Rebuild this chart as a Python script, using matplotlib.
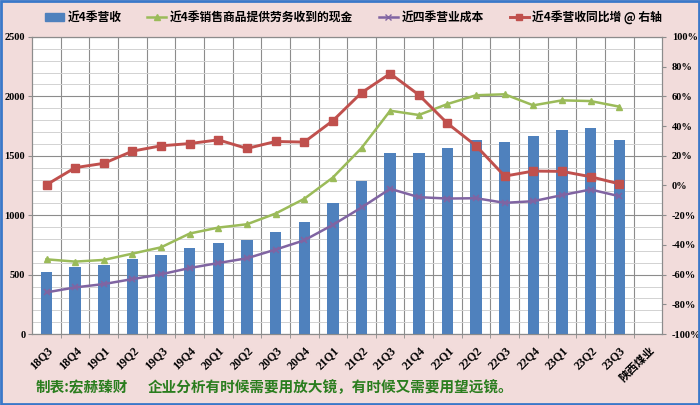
"""
陕西煤业: 近4季营收 / 现金 / 营业成本 / 营收同比 chart.
"""

import matplotlib
matplotlib.use("Agg")
import matplotlib.pyplot as plt
from matplotlib.patches import Rectangle
from matplotlib.lines import Line2D
from matplotlib.ticker import MultipleLocator, FixedLocator

CJK = ['Noto Sans CJK SC', 'DejaVu Sans']
NUM = ['Liberation Serif', 'DejaVu Serif']

quarters = ['18Q3', '18Q4', '19Q1', '19Q2', '19Q3', '19Q4', '20Q1', '20Q2',
            '20Q3', '20Q4', '21Q1', '21Q2', '21Q3', '21Q4', '22Q1', '22Q2',
            '22Q3', '22Q4', '23Q1', '23Q2', '23Q3']
company = '陕西煤业'

revenue = [520, 567, 584, 632, 663, 728, 767, 789, 860, 941, 1104, 1287,
           1520, 1520, 1567, 1629, 1615, 1666, 1719, 1733, 1635]
cash = [629, 610, 624, 677, 730, 846, 896, 924, 1014, 1138, 1317, 1565,
        1879, 1843, 1935, 2009, 2017, 1924, 1966, 1960, 1913]
cost = [351, 393, 421, 463, 503, 556, 598, 638, 711, 789, 919, 1065,
        1222, 1152, 1140, 1143, 1104, 1118, 1169, 1216, 1160]
growth = [0.5, 12.0, 14.9, 23.1, 26.7, 28.2, 30.7, 24.9, 29.6, 29.2, 43.6,
          62.4, 75.3, 61.0, 41.8, 26.7, 6.3, 9.7, 9.5, 5.9, 1.1]

left_ticks = [0, 500, 1000, 1500, 2000, 2500]
right_ticks = [-100, -80, -60, -40, -20, 0, 20, 40, 60, 80, 100]

names = ['近4季营收', '近4季销售商品提供劳务收到的现金', '近四季营业成本', '近4季营收同比增 @ 右轴']

BLUE = '#4f81bd'
GREEN = '#9bbb59'
PURPLE = '#8064a2'
RED = '#c0504d'
BG = '#f2dcdb'

fig = plt.figure(figsize=(7, 4.05), dpi=100, facecolor=BG)
ax = fig.add_axes([0.046, 0.175, 0.900, 0.734])
ax.set_facecolor('white')

x = list(range(len(quarters)))
ax.bar(x, revenue, width=0.4, color=BLUE, zorder=3)
ax.plot(x, cash, color=GREEN, lw=1.8, marker='^', ms=5, zorder=4)
ax.plot(x, cost, color=PURPLE, lw=1.8, marker='x', ms=4, mew=1.2, zorder=4)

ncat = len(quarters) + 1
ax.set_xlim(-0.5, ncat - 0.5)
ax.set_ylim(0, 2500)
ax.set_yticks(left_ticks)
ax.set_yticklabels([str(v) for v in left_ticks], fontfamily=NUM,
                   fontweight='bold', fontsize=7.5)
ax.yaxis.set_minor_locator(MultipleLocator(100))
ax.grid(axis='y', which='major', color='#8c8c8c', lw=0.8, zorder=0)
ax.grid(axis='y', which='minor', color='#d2d2d2', lw=0.7, zorder=0)

ax.set_xticks(range(ncat))
ax.set_xticklabels(quarters + [company])
for lab in ax.get_xticklabels():
    lab.set_rotation(45)
    lab.set_ha('right')
    lab.set_rotation_mode('anchor')
    lab.set_fontweight('bold')
    if lab.get_text() == company:
        lab.set_fontfamily(CJK)
        lab.set_fontsize(8)
    else:
        lab.set_fontfamily(NUM)
        lab.set_fontsize(8.5)
ax.tick_params(axis='x', which='major', length=0, pad=7)
ax.xaxis.set_minor_locator(FixedLocator([i + 0.5 for i in range(ncat - 1)]))
ax.tick_params(axis='x', which='minor', length=3, color='#8c8c8c')
ax.grid(axis='x', which='minor', color='#8c8c8c', lw=0.8, zorder=0)
ax.tick_params(axis='y', which='major', length=3, color='#8c8c8c', pad=2)
ax.tick_params(axis='y', which='minor', length=0)
for s in ax.spines.values():
    s.set_color('#8c8c8c')
    s.set_linewidth(0.8)

ax2 = ax.twinx()
ax2.plot(x, growth, color=RED, lw=2.1, marker='s', ms=6, zorder=5)
ax2.set_ylim(-100, 100)
ax2.set_yticks(right_ticks)
ax2.set_yticklabels([f'{v}%' for v in right_ticks], fontfamily=NUM,
                    fontweight='bold', fontsize=7.5)
ax2.tick_params(axis='y', length=3, color='#8c8c8c', pad=4)
for s in ax2.spines.values():
    s.set_color('#8c8c8c')
    s.set_linewidth(0.8)

handles = [
    Rectangle((0, 0), 1, 1, color=BLUE),
    Line2D([], [], color=GREEN, lw=1.8, marker='^', ms=5),
    Line2D([], [], color=PURPLE, lw=1.8, marker='x', ms=4),
    Line2D([], [], color=RED, lw=2.1, marker='s', ms=5),
]
fig.legend(handles, names, loc='center', bbox_to_anchor=(0.505, 0.957),
           ncol=4, frameon=False, prop={'family': CJK, 'weight': 'bold', 'size': 8.5},
           handlelength=1.6, handletextpad=0.3, columnspacing=2.2)

fig.text(0.051, 0.045, '制表:宏赫臻财', color='#2a7d1e', fontsize=10.5,
         fontfamily=CJK, fontweight='bold', va='center')
fig.text(0.211, 0.045, '企业分析有时候需要用放大镜，有时候又需要用望远镜。', color='#2a7d1e',
         fontsize=10.5, fontfamily=CJK, fontweight='bold', va='center')

fig.patches.append(Rectangle((0.002, 0.003), 0.996, 0.994, transform=fig.transFigure,
                             fill=False, edgecolor='#3a78c9', lw=2))

fig.savefig('out.png', dpi=100, facecolor=BG)
